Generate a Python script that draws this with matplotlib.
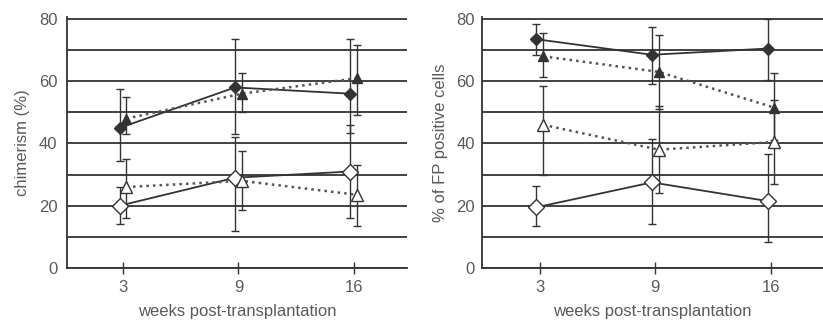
import numpy as np
import matplotlib
matplotlib.use('Agg')
import matplotlib.pyplot as plt

plt.rcParams['font.family'] = ['Liberation Sans', 'DejaVu Sans']

weeks = ['3', '9', '16']

# left panel: chimerism (%)
chim_filled_dia = [45, 58, 56]
chim_filled_dia_hi = [57.5, 73.5, 73.5]
chim_filled_dia_lo = [34.5, 43, 43.5]
chim_filled_tri = [48, 56, 61]
chim_filled_tri_hi = [55, 62.5, 71.5]
chim_filled_tri_lo = [43, 50, 49]
chim_open_dia = [20, 29, 31]
chim_open_dia_hi = [26, 42, 46]
chim_open_dia_lo = [14, 12, 16]
chim_open_tri = [26, 28, 23.5]
chim_open_tri_hi = [35, 37.5, 33]
chim_open_tri_lo = [16, 18.5, 13.5]

# right panel: % of FP positive cells
fp_filled_dia = [73.5, 68.5, 70.5]
fp_filled_dia_hi = [78.5, 77.5, 80]
fp_filled_dia_lo = [68.5, 59, 60.5]
fp_filled_tri = [68, 63, 51.5]
fp_filled_tri_hi = [75.5, 75, 62.5]
fp_filled_tri_lo = [61.5, 51, 41]
fp_open_dia = [19.5, 27.5, 21.5]
fp_open_dia_hi = [26.5, 41.5, 36.5]
fp_open_dia_lo = [13.5, 14, 8.5]
fp_open_tri = [46, 38, 40.5]
fp_open_tri_hi = [58.5, 52, 54]
fp_open_tri_lo = [30, 24, 27]

DARK = '#333333'
TEXT = '#5a5a5a'


def series(ax, vals, hi, lo, marker, filled, ls, shift):
	x = np.arange(len(vals)) + shift
	v = np.array(vals)
	err = [v - np.array(lo), np.array(hi) - v]
	ax.errorbar(x, v, yerr=err, fmt='none', ecolor=DARK, elinewidth=1.0,
		capsize=3, capthick=1.0, zorder=3)
	ax.plot(x, v, linestyle=ls, color=DARK if ls == '-' else '#555555',
		lw=1.3 if ls == '-' else 1.8, zorder=4)
	if marker == 'D':
		ms = 6 if filled else 8
	else:
		ms = 7 if filled else 9
	ax.plot(x, v, linestyle='none', marker=marker, markersize=ms,
		markerfacecolor=DARK if filled else 'white',
		markeredgecolor=DARK, markeredgewidth=1.0, zorder=5)


def setup(ax, ylabel, xlim, labelpad_y):
	ax.set_xlim(*xlim)
	ax.set_ylim(0, 80.6)
	ax.set_yticks(range(0, 90, 10))
	ax.set_yticklabels([str(t) if t % 20 == 0 else '' for t in range(0, 90, 10)])
	ax.yaxis.grid(True, color=DARK, lw=1.3)
	ax.set_axisbelow(True)
	ax.tick_params(axis='y', length=0, pad=labelpad_y, labelsize=12, labelcolor=TEXT)
	ax.set_xticks(range(len(weeks)))
	ax.set_xticklabels(weeks)
	ax.tick_params(axis='x', direction='inout', length=8, width=1.0, color=DARK,
		pad=5, labelsize=12, labelcolor=TEXT)
	for s in ['top', 'right']:
		ax.spines[s].set_visible(False)
	for s in ['left', 'bottom']:
		ax.spines[s].set_color(DARK)
		ax.spines[s].set_linewidth(1.3)
	ax.set_xlabel('weeks post-transplantation', fontsize=12, color=TEXT, labelpad=6)
	ax.set_ylabel(ylabel, fontsize=12, color=TEXT, labelpad=6)


def main():
	fig = plt.figure(figsize=(8.23, 3.22), dpi=100)
	h = 250.9 / 322
	ax1 = fig.add_axes([67 / 823, 54 / 322, 340 / 823, h])
	ax2 = fig.add_axes([482 / 823, 54 / 322, 341 / 823, h])

	setup(ax1, 'chimerism (%)', (-0.485, 2.46), 7)
	setup(ax2, '% of FP positive cells', (-0.5, 2.45), 5)

	series(ax1, chim_open_dia, chim_open_dia_hi, chim_open_dia_lo, 'D', False, '-', -0.03)
	series(ax1, chim_open_tri, chim_open_tri_hi, chim_open_tri_lo, '^', False, ':', 0.03)
	series(ax1, chim_filled_dia, chim_filled_dia_hi, chim_filled_dia_lo, 'D', True, '-', -0.03)
	series(ax1, chim_filled_tri, chim_filled_tri_hi, chim_filled_tri_lo, '^', True, ':', 0.03)

	series(ax2, fp_open_dia, fp_open_dia_hi, fp_open_dia_lo, 'D', False, '-', -0.03)
	series(ax2, fp_open_tri, fp_open_tri_hi, fp_open_tri_lo, '^', False, ':', 0.03)
	series(ax2, fp_filled_dia, fp_filled_dia_hi, fp_filled_dia_lo, 'D', True, '-', -0.03)
	series(ax2, fp_filled_tri, fp_filled_tri_hi, fp_filled_tri_lo, '^', True, ':', 0.03)

	fig.savefig('out.png', dpi=100)


main()
